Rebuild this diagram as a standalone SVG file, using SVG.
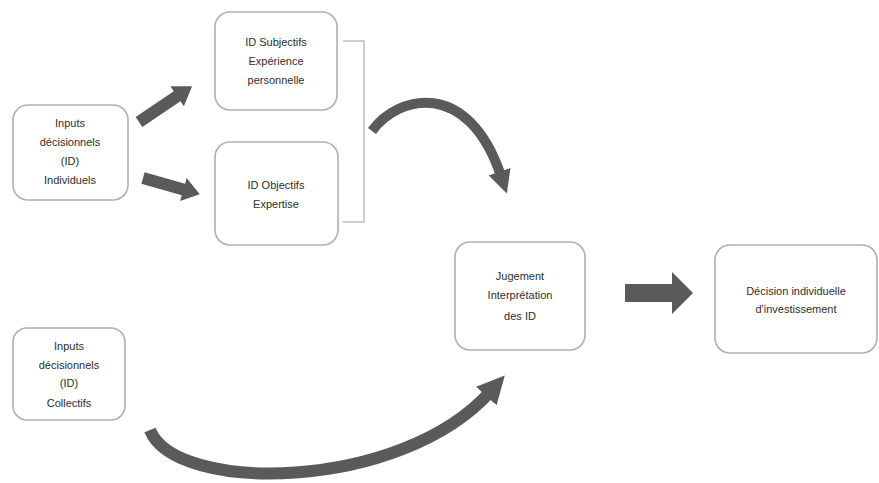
<svg xmlns="http://www.w3.org/2000/svg" width="879" height="483" viewBox="0 0 879 483">
<style>
.box{fill:#fff;stroke:#b0b0b0;stroke-width:1.6}
.t{font-family:"Liberation Sans","Open Sans",sans-serif;font-size:11px;fill:#2e2e2e;text-anchor:middle;dominant-baseline:middle}
.blk{fill:#5a5a5a}
.crv{fill:none;stroke:#5a5a5a;stroke-width:10}
.br{fill:none;stroke:#bdbdbd;stroke-width:1.5}
</style>
<defs>
<marker id="head" viewBox="0 0 10 10" refX="2" refY="5" markerWidth="2.3" markerHeight="2.3" orient="auto">
<path d="M0,0 L10,5 L0,10 Z" fill="#5a5a5a"/>
</marker>
</defs>
<rect width="879" height="483" fill="#fff"/>
<g id="n-individuels">
<rect class="box" x="13" y="105" width="115" height="95" rx="15"/>
<text class="t" x="70" y="124">Inputs</text>
<text class="t" x="70" y="143">décisionnels</text>
<text class="t" x="70" y="162">(ID)</text>
<text class="t" x="70" y="181">Individuels</text>
</g>
<g id="n-subjectifs">
<rect class="box" x="215" y="12" width="122" height="98" rx="15"/>
<text class="t" x="276" y="43">ID Subjectifs</text>
<text class="t" x="276" y="62">Expérience</text>
<text class="t" x="276" y="81">personnelle</text>
</g>
<g id="n-objectifs">
<rect class="box" x="215" y="142" width="123" height="103" rx="15"/>
<text class="t" x="276" y="186">ID Objectifs</text>
<text class="t" x="276" y="205">Expertise</text>
</g>
<g id="n-jugement">
<rect class="box" x="455" y="242" width="130" height="108" rx="15"/>
<text class="t" x="520" y="277">Jugement</text>
<text class="t" x="520" y="296">Interprétation</text>
<text class="t" x="520" y="317">des ID</text>
</g>
<g id="n-decision">
<rect class="box" x="715" y="245" width="162" height="108" rx="15"/>
<text class="t" x="796" y="292">Décision individuelle</text>
<text class="t" x="796" y="310">d'investissement</text>
</g>
<g id="n-collectifs">
<rect class="box" x="13" y="328" width="112" height="92" rx="14"/>
<text class="t" x="69" y="347">Inputs</text>
<text class="t" x="69" y="366">décisionnels</text>
<text class="t" x="69" y="384">(ID)</text>
<text class="t" x="69" y="404">Collectifs</text>
</g>
<g id="connectors">
<path class="br" d="M343,41 H364 V222 H343"/>
<path class="blk" transform="translate(139,122) rotate(-34)" d="M0,-6 L46,-6 L46,-12 L64,0 L46,12 L46,6 L0,6 Z"/>
<path class="blk" transform="translate(143,178) rotate(16)" d="M0,-6 L42,-6 L42,-12 L59,0 L42,12 L42,6 L0,6 Z"/>
<path class="blk" d="M625,284 L672,284 L672,272 L693,293 L672,314 L672,302 L625,302 Z"/>
<path class="crv" marker-end="url(#head)" d="M372,131 C398,95 468,78 501,176"/>
<path class="crv" style="stroke-width:12" marker-end="url(#head)" d="M150,430 C175,494 400,492 490,392"/>
</g>
</svg>
